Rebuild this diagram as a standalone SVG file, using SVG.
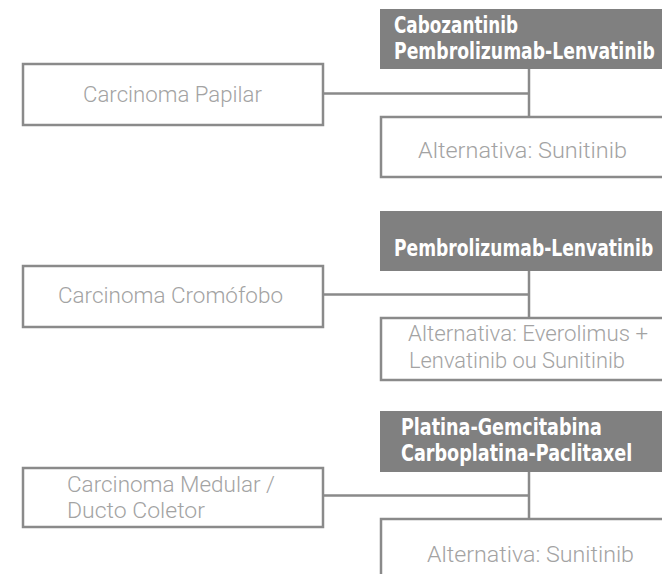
<svg xmlns="http://www.w3.org/2000/svg" width="662" height="574" viewBox="0 0 662 574">
<style>
.box{fill:#ffffff;stroke:#8a8a8a;stroke-width:2.5}
.dark{fill:#808080;stroke:none}
.lt{font-family:Roboto,"Open Sans","Liberation Sans",sans-serif;font-weight:300;font-size:22.5px;fill:#a3a3a3}
.bd{font-family:"Liberation Sans Narrow","DejaVu Sans Condensed","Liberation Sans",sans-serif;font-stretch:condensed;font-weight:bold;font-size:23px;fill:#ffffff}
.con{stroke:#8a8a8a;stroke-width:2.5;fill:none}
</style>
<rect width="662" height="574" fill="#ffffff"/>
<g id="connectors">
<path class="con" d="M323 93.5H529M529 69V117"/>
<path class="con" d="M323 294.5H529M529 271V318"/>
<path class="con" d="M323 495.5H529M529 472V519"/>
</g>
<g id="papilar">
<rect class="box" x="23" y="64" width="300" height="61"/>
<text class="lt" x="83" y="102" textLength="179" lengthAdjust="spacingAndGlyphs">Carcinoma Papilar</text>
</g>
<g id="tx1">
<rect class="dark" x="380" y="9" width="282" height="60"/>
<text class="bd" transform="translate(394 33) scale(0.8 1)" x="0" y="0" textLength="155" lengthAdjust="spacingAndGlyphs">Cabozantinib</text>
<text class="bd" transform="translate(394 59) scale(0.8 1)" x="0" y="0" textLength="326" lengthAdjust="spacingAndGlyphs">Pembrolizumab-Lenvatinib</text>
</g>
<g id="alt1">
<rect class="box" x="381" y="117" width="295" height="60"/>
<text class="lt" x="418" y="158" textLength="209" lengthAdjust="spacingAndGlyphs">Alternativa: Sunitinib</text>
</g>
<g id="cromofobo">
<rect class="box" x="23" y="266" width="300" height="61"/>
<text class="lt" x="58" y="303" textLength="225" lengthAdjust="spacingAndGlyphs">Carcinoma Cromófobo</text>
</g>
<g id="tx2">
<rect class="dark" x="380" y="211" width="282" height="60"/>
<text class="bd" transform="translate(394 256) scale(0.8 1)" x="0" y="0" textLength="324" lengthAdjust="spacingAndGlyphs">Pembrolizumab-Lenvatinib</text>
</g>
<g id="alt2">
<rect class="box" x="381" y="318" width="295" height="62"/>
<text class="lt" x="408" y="341" textLength="240" lengthAdjust="spacingAndGlyphs">Alternativa: Everolimus +</text>
<text class="lt" x="409" y="368" textLength="216" lengthAdjust="spacingAndGlyphs">Lenvatinib ou Sunitinib</text>
</g>
<g id="medular">
<rect class="box" x="23" y="468" width="300" height="59"/>
<text class="lt" x="67" y="492" textLength="208" lengthAdjust="spacingAndGlyphs">Carcinoma Medular /</text>
<text class="lt" x="67" y="518" textLength="138" lengthAdjust="spacingAndGlyphs">Ducto Coletor</text>
</g>
<g id="tx3">
<rect class="dark" x="380" y="411" width="282" height="61"/>
<text class="bd" transform="translate(401 435) scale(0.8 1)" x="0" y="0" textLength="251" lengthAdjust="spacingAndGlyphs">Platina-Gemcitabina</text>
<text class="bd" transform="translate(401 461) scale(0.8 1)" x="0" y="0" textLength="289" lengthAdjust="spacingAndGlyphs">Carboplatina-Paclitaxel</text>
</g>
<g id="alt3">
<rect class="box" x="381" y="519" width="295" height="70"/>
<text class="lt" x="427" y="562" textLength="207" lengthAdjust="spacingAndGlyphs">Alternativa: Sunitinib</text>
</g>
</svg>
